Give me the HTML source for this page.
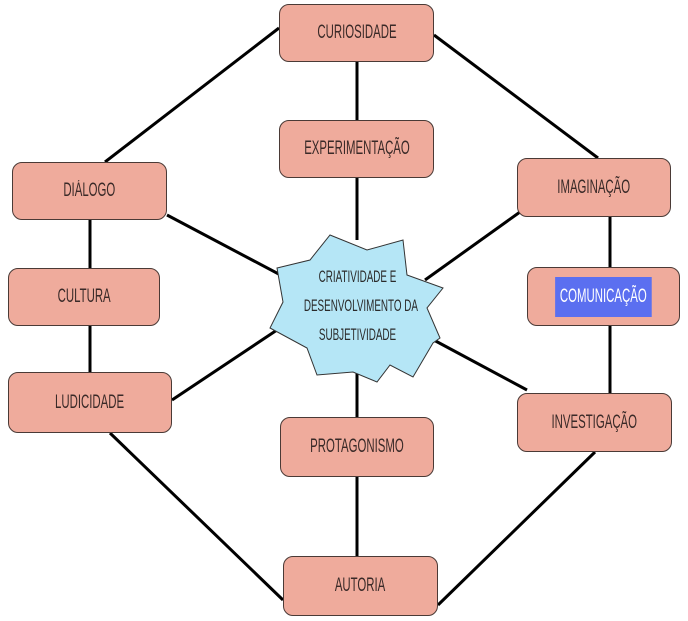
<!DOCTYPE html>
<html><head><meta charset="utf-8"><style>
body{margin:0;width:688px;height:621px;background:#fff;position:relative;overflow:hidden;font-family:"Liberation Sans Narrow","Liberation Sans",sans-serif;}
.b{position:absolute;background:#efab9c;border:1px solid #4a3a36;border-radius:10px;box-sizing:border-box;display:flex;align-items:center;justify-content:center;color:#3a2a28;font-size:19px;text-transform:uppercase;}
.b span{display:inline-block;transform:scaleX(0.6);white-space:nowrap;}
svg{position:absolute;left:0;top:0}
.st{position:absolute;left:265px;top:262px;width:185px;text-align:center;font-size:17px;line-height:29px;color:#2a2a2a;text-transform:uppercase;}
.st div{transform:scaleX(0.58);white-space:nowrap}
</style></head><body>
<svg width="688" height="621">
<g stroke="#000" stroke-width="3" fill="none">
<line x1="279" y1="28" x2="105" y2="162"/>
<line x1="434" y1="35" x2="598" y2="158"/>
<line x1="357" y1="62" x2="357" y2="120"/>
<line x1="357" y1="178" x2="357" y2="240"/>
<line x1="90" y1="220" x2="90" y2="268"/>
<line x1="90" y1="326" x2="90" y2="372"/>
<line x1="610" y1="217" x2="610" y2="267"/>
<line x1="610" y1="326" x2="610" y2="393"/>
<line x1="167" y1="215" x2="290" y2="280"/>
<line x1="425" y1="280" x2="520" y2="212"/>
<line x1="172" y1="400" x2="280" y2="328"/>
<line x1="430" y1="338" x2="527" y2="390"/>
<line x1="357" y1="370" x2="357" y2="420"/>
<line x1="357" y1="477" x2="357" y2="556"/>
<line x1="110" y1="433" x2="283" y2="600"/>
<line x1="595" y1="452" x2="438" y2="605"/>
</g>
<polygon points="330,235 367,250 403,240 407,275 443,288 427,308 440,338 433,343 413,377 390,365 377,382 353,372 317,375 307,348 270,328 283,302 277,268 310,260" fill="#b5e6f6" stroke="#333" stroke-width="1"/>
</svg>
<div class="b" style="left:279px;top:4px;width:155px;height:58px"><span>Curiosidade</span></div>
<div class="b" style="left:279px;top:120px;width:155px;height:58px"><span>experimentação</span></div>
<div class="b" style="left:12px;top:162px;width:155px;height:58px"><span>Diálogo</span></div>
<div class="b" style="left:517px;top:158px;width:154px;height:59px"><span>Imaginação</span></div>
<div class="b" style="left:8px;top:268px;width:152px;height:58px"><span>Cultura</span></div>
<div class="b" style="left:527px;top:267px;width:153px;height:59px"><span style="background:#5b6ff0;color:#fff;padding:9px 8px">Comunicação</span></div>
<div class="b" style="left:8px;top:372px;width:164px;height:61px"><span>ludicidade</span></div>
<div class="b" style="left:517px;top:393px;width:155px;height:59px"><span>Investigação</span></div>
<div class="b" style="left:280px;top:417px;width:154px;height:60px"><span>Protagonismo</span></div>
<div class="b" style="left:283px;top:556px;width:155px;height:60px"><span>Autoria</span></div>
<div class="st"><div>Criatividade e</div><div>desenvolvimento da</div><div>subjetividade</div></div>
</body></html>
